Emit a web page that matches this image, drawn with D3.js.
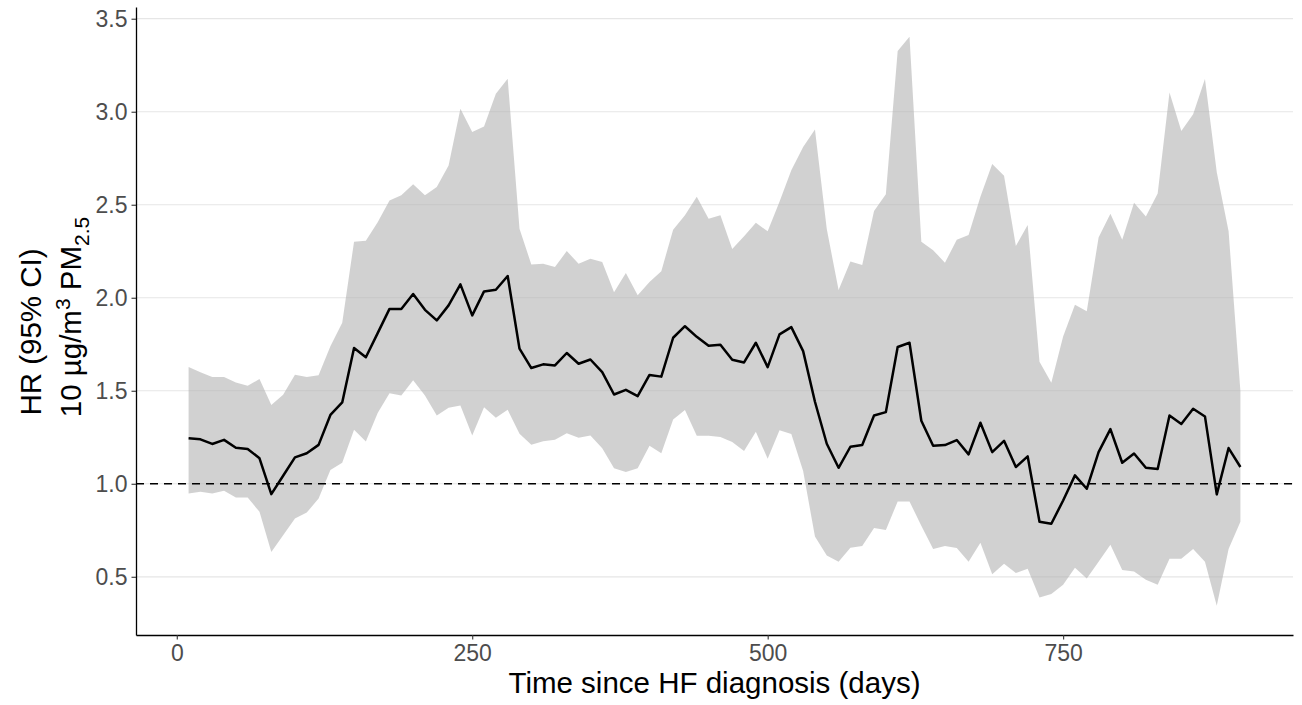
<!DOCTYPE html>
<html>
<head>
<meta charset="utf-8">
<script src="https://cdn.jsdelivr.net/npm/d3@7"></script>
<style>
  body { margin: 0; background: #fff; }
  text { font-family: "Liberation Sans", Arial, sans-serif; }
</style>
</head>
<body>
<div id="chart"></div>
<script>
// days since diagnosis
var days = [];
for (var d = 10; d <= 900; d += 10) days.push(d);

var hr = [1.245, 1.239, 1.214, 1.236, 1.194, 1.187, 1.137, 0.944, 1.043, 1.142,
  1.164, 1.209, 1.37, 1.437, 1.73, 1.68, 1.81, 1.94, 1.94, 2.02,
  1.935, 1.878, 1.959, 2.072, 1.905, 2.034, 2.043, 2.117, 1.726, 1.622,
  1.642, 1.636, 1.703, 1.645, 1.668, 1.600, 1.480, 1.505, 1.471, 1.585,
  1.576, 1.785, 1.847, 1.790, 1.742, 1.747, 1.667, 1.652, 1.758, 1.627,
  1.803, 1.842, 1.713, 1.441, 1.215, 1.086, 1.199, 1.208, 1.367, 1.385,
  1.735, 1.758, 1.339, 1.204, 1.208, 1.235, 1.158, 1.328, 1.170, 1.231,
  1.090, 1.147, 0.796, 0.785, 0.910, 1.045, 0.973, 1.170, 1.294, 1.113,
  1.163, 1.086, 1.079, 1.367, 1.321, 1.403, 1.362, 0.943, 1.192, 1.090];

var upper = [1.628, 1.599, 1.574, 1.574, 1.545, 1.527, 1.563, 1.424, 1.478, 1.586,
  1.574, 1.583, 1.739, 1.865, 2.301, 2.307, 2.406, 2.523, 2.551, 2.610,
  2.551, 2.595, 2.711, 3.016, 2.891, 2.921, 3.097, 3.177, 2.371, 2.179,
  2.183, 2.165, 2.251, 2.183, 2.210, 2.192, 2.030, 2.133, 2.013, 2.084,
  2.143, 2.366, 2.443, 2.543, 2.425, 2.443, 2.262, 2.330, 2.403, 2.357,
  2.516, 2.686, 2.810, 2.905, 2.369, 2.041, 2.195, 2.176, 2.466, 2.557,
  3.326, 3.403, 2.301, 2.256, 2.188, 2.312, 2.337, 2.543, 2.719, 2.656,
  2.278, 2.391, 1.656, 1.543, 1.792, 1.962, 1.928, 2.324, 2.452, 2.312,
  2.511, 2.437, 2.561, 3.104, 2.896, 2.986, 3.176, 2.674, 2.357, 1.498];

var lower = [0.948, 0.957, 0.948, 0.962, 0.926, 0.926, 0.849, 0.633, 0.723, 0.813,
  0.845, 0.921, 1.074, 1.113, 1.29, 1.227, 1.38, 1.487, 1.475, 1.556,
  1.475, 1.367, 1.409, 1.421, 1.260, 1.412, 1.355, 1.398, 1.269, 1.210,
  1.229, 1.237, 1.272, 1.247, 1.260, 1.191, 1.084, 1.063, 1.084, 1.204,
  1.164, 1.346, 1.396, 1.258, 1.258, 1.252, 1.225, 1.176, 1.280, 1.134,
  1.288, 1.267, 1.068, 0.717, 0.615, 0.581, 0.656, 0.665, 0.762, 0.751,
  0.905, 0.905, 0.774, 0.649, 0.665, 0.655, 0.581, 0.683, 0.514, 0.570,
  0.520, 0.543, 0.389, 0.407, 0.457, 0.548, 0.491, 0.581, 0.672, 0.536,
  0.529, 0.484, 0.457, 0.597, 0.597, 0.649, 0.581, 0.344, 0.649, 0.796];

var xTicks = [0, 250, 500, 750];
var yTicks = [0.5, 1.0, 1.5, 2.0, 2.5, 3.0, 3.5];
var refLine = 1.0;

var data = days.map(function(d, i) {
  return {x: d, y: hr[i], lo: lower[i], hi: upper[i]};
});

var w = 1302, h = 705;
var margin = {top: 7, right: 9, bottom: 70, left: 136};
var width = w - margin.left - margin.right,
    height = h - margin.top - margin.bottom;

var xScale = d3.scaleLinear()
  .domain([-34.5, 944.5])
  .range([0, width]);

var yScale = d3.scaleLinear()
  .domain([0.187, 3.563])
  .range([height, 0]);

var svg = d3.select("#chart").append("svg")
  .attr("width", w)
  .attr("height", h)
  .append("g")
  .attr("transform", "translate(" + margin.left + "," + margin.top + ")");

// horizontal grid
svg.selectAll(".grid")
  .data(yTicks)
  .enter()
  .append("line")
  .attr("x1", 0)
  .attr("x2", width)
  .attr("y1", function(d) { return yScale(d); })
  .attr("y2", function(d) { return yScale(d); })
  .attr("stroke", "#e6e6e6")
  .attr("stroke-width", 1.2);

// confidence band
var area = d3.area()
  .x(function(d) { return xScale(d.x); })
  .y0(function(d) { return yScale(d.lo); })
  .y1(function(d) { return yScale(d.hi); });

svg.append("path")
  .attr("d", area(data))
  .attr("fill", "#b3b3b3")
  .attr("fill-opacity", 0.6);

// reference line at HR = 1
svg.append("line")
  .attr("x1", 0)
  .attr("x2", width)
  .attr("y1", yScale(refLine))
  .attr("y2", yScale(refLine))
  .attr("stroke", "#000")
  .attr("stroke-width", 1.5)
  .attr("stroke-dasharray", "8,6");

var line = d3.line()
  .x(function(d) { return xScale(d.x); })
  .y(function(d) { return yScale(d.y); });

svg.append("path")
  .attr("d", line(data))
  .attr("fill", "none")
  .attr("stroke", "#000")
  .attr("stroke-width", 2.5)
  .attr("stroke-linejoin", "round");

// axes
var xAxis = svg.append("g")
  .attr("transform", "translate(0," + height + ")")
  .call(d3.axisBottom(xScale).tickValues(xTicks).tickSize(4.5).tickSizeOuter(0).tickPadding(5.5));

var yAxis = svg.append("g")
  .call(d3.axisLeft(yScale).tickValues(yTicks).tickFormat(d3.format(".1f")).tickSize(4.5).tickSizeOuter(0).tickPadding(4));

[xAxis, yAxis].forEach(function(a) {
  a.select(".domain").attr("stroke", "#000").attr("stroke-width", 1.3);
  a.selectAll(".tick line").attr("stroke", "#333").attr("stroke-width", 1.1);
  a.selectAll(".tick text")
    .attr("fill", "#4d4d4d")
    .style("font-size", "23px")
    .style("font-family", "'Liberation Sans', Arial, sans-serif");
});

// titles
svg.append("text")
  .attr("x", width / 2)
  .attr("y", height + 58)
  .attr("text-anchor", "middle")
  .style("font-size", "29.5px")
  .attr("fill", "#000")
  .text("Time since HF diagnosis (days)");

var yTitle = svg.append("g")
  .attr("transform", "translate(" + (-margin.left) + ",0)");

yTitle.append("text")
  .attr("transform", "translate(41,325) rotate(-90)")
  .attr("text-anchor", "middle")
  .style("font-size", "29.5px")
  .attr("fill", "#000")
  .text("HR (95% CI)");

var t2 = yTitle.append("text")
  .attr("transform", "translate(81,310) rotate(-90)")
  .attr("text-anchor", "middle")
  .style("font-size", "29.5px")
  .attr("fill", "#000");
t2.append("tspan").text("10 µg/m");
t2.append("tspan").attr("dy", -11).style("font-size", "21px").text("3");
t2.append("tspan").attr("dy", 11).text(" PM");
t2.append("tspan").attr("dy", 8).style("font-size", "21px").text("2.5");
</script>
</body>
</html>
